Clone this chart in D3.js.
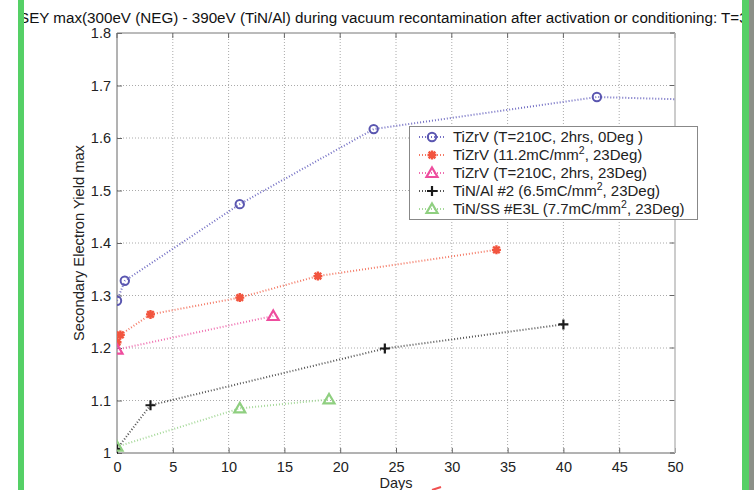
<!DOCTYPE html>
<html><head><meta charset="utf-8">
<script src="https://cdn.jsdelivr.net/npm/d3@7"></script>
<style>
body{margin:0;background:#fff;}
svg{display:block;font-family:"Liberation Sans",Arial,sans-serif;}
</style></head>
<body>
<svg id="c" width="754" height="490"></svg>
<script>
const titleText = "SEY max(300eV (NEG) - 390eV (TiN/Al) during vacuum recontamination after activation or conditioning: T=3";
const xLabel = "Days";
const yLabel = "Secondary Electron Yield max";
const xTicks = [0,5,10,15,20,25,30,35,40,45,50];
const yTicks = [1,1.1,1.2,1.3,1.4,1.5,1.6,1.7,1.8];

const s1Days = [0, 0.7, 11, 23, 43, 60];
const s1Vals = [1.29, 1.328, 1.474, 1.617, 1.678, 1.668];
const s2Days = [0, 0.3, 3, 11, 18, 34];
const s2Vals = [1.211, 1.225, 1.264, 1.296, 1.337, 1.387];
const s3Days = [0, 14];
const s3Vals = [1.197, 1.261];
const s4Days = [0, 3, 24, 40];
const s4Vals = [1.008, 1.091, 1.199, 1.245];
const s5Days = [0, 11, 19];
const s5Vals = [1.012, 1.085, 1.102];

const seriesNames = [
  "TiZrV (T=210C, 2hrs, 0Deg )",
  "TiZrV (11.2mC/mm|2|, 23Deg)",
  "TiZrV (T=210C, 2hrs, 23Deg)",
  "TiN/Al #2 (6.5mC/mm|2|, 23Deg)",
  "TiN/SS #E3L (7.7mC/mm|2|, 23Deg)"
];
const series = [
  {days:s1Days, vals:s1Vals, color:"#5a56b0", line:"#7470c4", marker:"circle"},
  {days:s2Days, vals:s2Vals, color:"#f2553f", line:"#f47a66", marker:"star"},
  {days:s3Days, vals:s3Vals, color:"#ee4d9e", line:"#ef6fb0", marker:"tri"},
  {days:s4Days, vals:s4Vals, color:"#1a1a1a", line:"#555555", marker:"plus"},
  {days:s5Days, vals:s5Vals, color:"#8fcf80", line:"#a6d99a", marker:"tri"}
];

const svg = d3.select("#c");
const L=117, R=675, T=33, B=453;
const x = d3.scaleLinear().domain([0,50]).range([L,R]);
const y = d3.scaleLinear().domain([1,1.8]).range([B,T]);

// title
svg.append("text").attr("x",19).attr("y",23).attr("font-size",15.2).attr("fill","#111")
  .text(titleText);

// grid
const g = svg.append("g");
g.selectAll(".gx").data(xTicks.slice(1,-1)).join("line")
  .attr("x1",d=>x(d)).attr("x2",d=>x(d)).attr("y1",T).attr("y2",B)
  .attr("stroke","#aaa").attr("stroke-width",1).attr("stroke-dasharray","1,2");
g.selectAll(".gy").data(yTicks.slice(1,-1)).join("line")
  .attr("y1",d=>y(d)).attr("y2",d=>y(d)).attr("x1",L).attr("x2",R)
  .attr("stroke","#aaa").attr("stroke-width",1).attr("stroke-dasharray","1,2");

// axes
const xAxis = d3.axisBottom(x).tickValues(xTicks).tickSize(-5).tickPadding(9).tickFormat(d3.format("d"));
const yAxis = d3.axisLeft(y).tickValues(yTicks).tickSize(-5).tickPadding(6).tickFormat(d=>d3.format("")(+d.toFixed(1)));
const gx = svg.append("g").attr("transform",`translate(0,${B})`).call(xAxis);
const gy = svg.append("g").attr("transform",`translate(${L},0)`).call(yAxis);
[gx,gy].forEach(a=>{
  a.select(".domain").remove();
  a.selectAll("line").attr("stroke","#666");
  a.selectAll("text").attr("font-size",14.5).attr("fill","#222").attr("font-family","Liberation Sans, Arial, sans-serif");
});
gx.selectAll("text").attr("dy","0.71em");
// top/right ticks
svg.append("g").selectAll("line").data(xTicks).join("line")
  .attr("x1",d=>x(d)).attr("x2",d=>x(d)).attr("y1",T).attr("y2",T+5).attr("stroke","#666");
svg.append("g").selectAll("line").data(yTicks).join("line")
  .attr("y1",d=>y(d)).attr("y2",d=>y(d)).attr("x1",R).attr("x2",R-5).attr("stroke","#666");
// box
svg.append("line").attr("x1",L).attr("x2",R).attr("y1",T).attr("y2",T).attr("stroke","#777");
svg.append("line").attr("x1",L).attr("x2",R).attr("y1",B).attr("y2",B).attr("stroke","#666");
svg.append("line").attr("x1",L).attr("x2",L).attr("y1",T).attr("y2",B).attr("stroke","#666");
svg.append("line").attr("x1",R).attr("x2",R).attr("y1",T).attr("y2",B).attr("stroke","#bbb").attr("stroke-width",1.5);

// labels
svg.append("text").attr("x",x(25)).attr("y",488).attr("text-anchor","middle").attr("font-size",14.5).attr("fill","#222").text(xLabel);
svg.append("text").attr("transform",`translate(84,${(T+B)/2}) rotate(-90)`).attr("text-anchor","middle")
  .attr("font-size",14.7).attr("fill","#222").text(yLabel);

// clip
svg.append("clipPath").attr("id","pc").append("rect").attr("x",L).attr("y",T-8).attr("width",R-L).attr("height",B-T+16);
svg.append("clipPath").attr("id","lc").append("rect").attr("x",L).attr("y",T).attr("width",R-L).attr("height",B-T);

function drawMarker(sel, type, color){
  if(type==="circle"){
    sel.append("circle").attr("r",4.2).attr("fill","none").attr("stroke",color).attr("stroke-width",2);
  } else if(type==="tri"){
    sel.append("path").attr("d","M0,-5.5L5.5,4L-5.5,4Z").attr("fill","none").attr("stroke",color).attr("stroke-width",2.2);
  } else if(type==="plus"){
    sel.append("path").attr("d","M-5,0H5M0,-5V5").attr("stroke",color).attr("stroke-width",2.2);
  } else if(type==="star"){
    sel.append("path").attr("d","M-4.5,0H4.5M0,-4.5V4.5M-3.3,-3.3L3.3,3.3M-3.3,3.3L3.3,-3.3").attr("stroke",color).attr("stroke-width",2.4);
    sel.append("circle").attr("r",2.6).attr("fill",color);
  }
}

const line = d3.line().x(d=>x(d[0])).y(d=>y(d[1]));
const plot = svg.append("g").attr("clip-path","url(#lc)");
series.forEach(s=>{
  const pts = s.days.map((d,i)=>[d,s.vals[i]]);
  plot.append("path").attr("d",line(pts)).attr("fill","none").attr("stroke",s.line)
    .attr("stroke-width",2).attr("stroke-dasharray","1,2");
});
const mk = svg.append("g").attr("clip-path","url(#pc)");
series.forEach(s=>{
  s.days.forEach((d,i)=>{
    if(d>50) return;
    const m = mk.append("g").attr("transform",`translate(${x(d)},${y(s.vals[i])})`);
    drawMarker(m, s.marker, s.color);
  });
});

// legend
const lg = svg.append("g");
lg.append("rect").attr("x",409.5).attr("y",126.5).attr("width",288).attr("height",93)
  .attr("fill","#fff").attr("stroke","#888").attr("stroke-width",1);
seriesNames.forEach((n,i)=>{
  const yy = 137 + i*18;
  const s = series[i];
  lg.append("line").attr("x1",419).attr("x2",446).attr("y1",yy).attr("y2",yy)
    .attr("stroke",s.line).attr("stroke-width",2).attr("stroke-dasharray","1,2");
  drawMarker(lg.append("g").attr("transform",`translate(432,${yy})`), s.marker, s.color);
  const parts = n.split("|");
  const t = lg.append("text").attr("x",453).attr("y",yy+5).attr("font-size",15).attr("fill","#222");
  parts.forEach((p,j)=>{
    if(j===1) t.append("tspan").attr("dy",-6).attr("font-size",10.5).text(p);
    else if(j===2) t.append("tspan").attr("dy",6).text(p);
    else t.append("tspan").text(p);
  });
});

// stray red mark near bottom
svg.append("path").attr("d","M432,490L441,487").attr("stroke","#f05050").attr("stroke-width",2);

// side bars
svg.append("rect").attr("x",18).attr("y",0).attr("width",6).attr("height",490).attr("fill","#55d066");
svg.append("rect").attr("x",742).attr("y",0).attr("width",7).attr("height",490).attr("fill","#55d066");
svg.append("rect").attr("x",749).attr("y",0).attr("width",5).attr("height",490).attr("fill","#8c9088");
</script>
</body></html>
